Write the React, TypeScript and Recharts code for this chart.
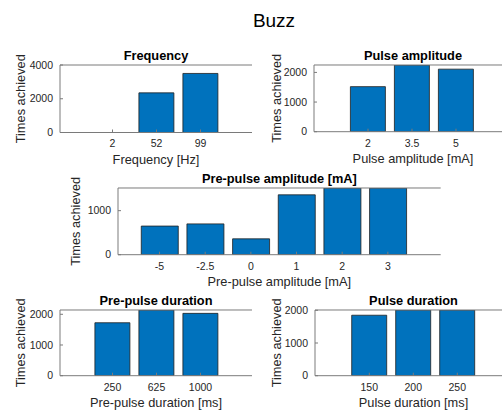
import { BarChart, Bar, XAxis, YAxis, Label } from "recharts";

// counts per stimulus setting
const frequencyCats = ["2", "52", "99"];
const frequencyCounts = [0, 2350, 3500];

const pulseAmpCats = ["2", "3.5", "5"];
const pulseAmpCounts = [1520, 2250, 2110];

const prePulseAmpCats = ["-5", "-2.5", "0", "1", "2", "3"];
const prePulseAmpCounts = [650, 700, 360, 1360, 1515, 1515];

const prePulseDurCats = ["250", "625", "1000"];
const prePulseDurCounts = [1725, 2140, 2030];

const pulseDurCats = ["150", "200", "250"];
const pulseDurCounts = [1850, 2010, 2010];

const ticks4000 = [0, 2000, 4000];
const ticks2000 = [0, 1000, 2000];
const ticks1000 = [0, 1000];

const FONT = "'Liberation Sans', Arial, Helvetica, sans-serif";
const BLUE = "#0072BD";
const AXIS = "#7a7a7a";
const TEXT = "#262626";

type PanelProps = {
  cats: string[];
  counts: number[];
  title: string;
  xLabel: string;
  yTicks: number[];
  yMax?: number;
  // plot box in page pixels
  left: number;
  top: number;
  width: number;
  height: number;
  padL: number;
  padR: number;
  yLabelX: number;
};

function Panel(p: PanelProps) {
  const rows = p.cats.map((cat, i) => ({ cat, n: p.counts[i] }));
  const yMax = p.yMax ?? Math.max(...p.counts);
  const axisW = 60;
  const chartW = p.width + axisW + 2;
  const chartH = p.height + 25 + 40;
  return (
    <div style={{ position: "absolute", left: p.left - axisW, top: p.top - 25 }}>
      <BarChart
        width={chartW}
        height={chartH}
        data={rows}
        margin={{ top: 5, right: 2, bottom: 0, left: 0 }}
        barCategoryGap="10%"
        style={{ fontFamily: FONT }}
      >
        <XAxis
          xAxisId="top"
          orientation="top"
          dataKey="cat"
          height={20}
          padding={{ left: p.padL, right: p.padR }}
          tick={false}
          tickSize={-3}
          stroke={AXIS}
          interval={0}
        >
          <Label
            value={p.title}
            position="insideBottom"
            offset={5}
            style={{ fontWeight: 700, fontSize: 12.8, fill: "#000" }}
          />
        </XAxis>
        <XAxis
          xAxisId="bottom"
          dataKey="cat"
          height={40}
          padding={{ left: p.padL, right: p.padR }}
          tick={{ fill: TEXT, fontSize: 10.5 }}
          tickSize={-3}
          tickMargin={10.5}
          stroke={AXIS}
          interval={0}
        >
          <Label value={p.xLabel} position="insideBottom" offset={9} style={{ fontSize: 12.8, fill: TEXT }} />
        </XAxis>
        <YAxis
          yAxisId="left"
          width={axisW}
          type="number"
          domain={[0, yMax]}
          allowDataOverflow
          ticks={p.yTicks}
          tick={{ fill: TEXT, fontSize: 10.5 }}
          tickSize={-3}
          tickMargin={10}
          stroke={AXIS}
        >
          <Label
            value="Times achieved"
            angle={-90}
            position="insideLeft"
            offset={p.yLabelX}
            style={{ textAnchor: "middle", fontSize: 12.8, fill: TEXT }}
          />
        </YAxis>
        <YAxis
          yAxisId="right"
          orientation="right"
          width={0}
          type="number"
          domain={[0, yMax]}
          allowDataOverflow
          ticks={p.yTicks}
          tick={false}
          tickSize={-3}
          stroke={AXIS}
        />
        <Bar
          xAxisId="bottom"
          yAxisId="left"
          dataKey="n"
          fill={BLUE}
          stroke="#1f1f1f"
          strokeWidth={0.8}
          isAnimationActive={false}
        />
      </BarChart>
    </div>
  );
}

export default function App() {
  return (
    <div
      style={{
        position: "absolute",
        left: 0,
        top: 0,
        width: 502,
        height: 412,
        overflow: "hidden",
        background: "#fff",
        fontFamily: FONT,
      }}
    >
      <svg width={502} height={40} style={{ position: "absolute", left: 0, top: 0 }}>
        <text x={274} y={26.7} textAnchor="middle" fontSize={19} fill="#000" fontFamily={FONT}>
          Buzz
        </text>
      </svg>
      <Panel
        cats={frequencyCats}
        counts={frequencyCounts}
        title="Frequency"
        xLabel="Frequency [Hz]"
        yTicks={ticks4000}
        yMax={4000}
        left={60}
        top={65}
        width={192}
        height={67.5}
        padL={30.5}
        padR={29.5}
        yLabelX={20}
      />
      <Panel
        cats={pulseAmpCats}
        counts={pulseAmpCounts}
        title="Pulse amplitude"
        xLabel="Pulse amplitude [mA]"
        yTicks={ticks2000}
        left={314}
        top={65}
        width={198}
        height={66.7}
        padL={32}
        padR={34}
        yLabelX={22}
      />
      <Panel
        cats={prePulseAmpCats}
        counts={prePulseAmpCounts}
        title="Pre-pulse amplitude [mA]"
        xLabel="Pre-pulse amplitude [mA]"
        yTicks={ticks1000}
        left={118}
        top={188.3}
        width={322.7}
        height={66.7}
        padL={18.7}
        padR={30}
        yLabelX={17}
      />
      <Panel
        cats={prePulseDurCats}
        counts={prePulseDurCounts}
        title="Pre-pulse duration"
        xLabel="Pre-pulse duration [ms]"
        yTicks={ticks2000}
        left={60}
        top={310}
        width={192}
        height={65.7}
        padL={30.5}
        padR={29.5}
        yLabelX={20}
      />
      <Panel
        cats={pulseDurCats}
        counts={pulseDurCounts}
        title="Pulse duration"
        xLabel="Pulse duration [ms]"
        yTicks={ticks2000}
        left={315}
        top={310}
        width={197}
        height={65.7}
        padL={32.3}
        padR={32.7}
        yLabelX={21}
      />
    </div>
  );
}
